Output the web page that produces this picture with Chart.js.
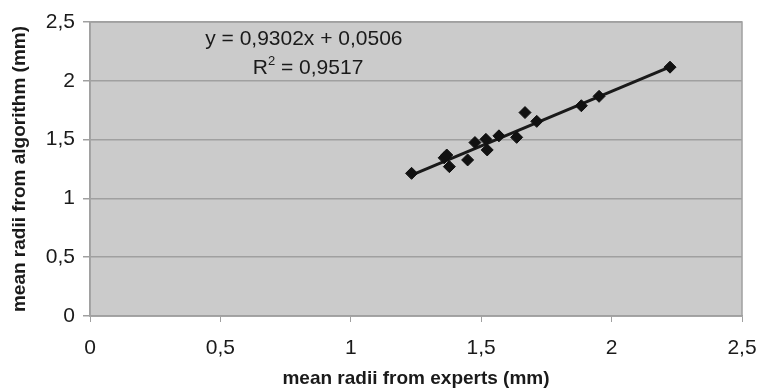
<!DOCTYPE html>
<html>
<head>
<meta charset="utf-8">
<script src="https://cdn.jsdelivr.net/npm/chart.js"></script>
<style>
  html, body { margin: 0; padding: 0; background: #fff; }
  #wrap { width: 759px; height: 390px; }
</style>
</head>
<body>
<div id="wrap"><canvas id="scatterChart" width="759" height="390"></canvas></div>
<script>
// mean radii, experts (x) vs algorithm (y), in mm
var expertsRadii = [1.233, 1.358, 1.368, 1.378, 1.448, 1.476, 1.518, 1.523, 1.568, 1.636, 1.668, 1.713, 1.884, 1.952, 2.224];
var algorithmRadii = [1.213, 1.345, 1.369, 1.270, 1.327, 1.475, 1.502, 1.412, 1.532, 1.519, 1.730, 1.655, 1.788, 1.868, 2.116];
var slope = 0.9302;
var intercept = 0.0506;
var rSquared = 0.9517;
var axisTicks = [0, 0.5, 1, 1.5, 2, 2.5];

var points = expertsRadii.map(function (x, i) { return { x: x, y: algorithmRadii[i] }; });
var xMin = Math.min.apply(null, expertsRadii);
var xMax = Math.max.apply(null, expertsRadii);
var trend = [
    { x: xMin, y: slope * xMin + intercept },
    { x: xMax, y: slope * xMax + intercept }
];

var FONT = "'Liberation Sans', Arial, sans-serif";
function fmt(v) { return String(v).replace(".", ","); }

// gray plot background + frame + regression label
var plotBackground = {
    id: "plotBackground",
    beforeDraw: function (chart) {
        var a = chart.chartArea, ctx = chart.ctx;
        ctx.save();
        ctx.fillStyle = "#cbcbcb";
        ctx.fillRect(a.left, a.top, a.right - a.left, a.bottom - a.top);
        ctx.restore();
    },
    afterDatasetsDraw: function (chart) {
        var a = chart.chartArea, ctx = chart.ctx;
        ctx.save();
        ctx.strokeStyle = "#a0a0a0";
        ctx.lineWidth = 1.5;
        ctx.strokeRect(a.left, a.top, a.right - a.left, a.bottom - a.top);

        var xs = chart.scales.x, ys = chart.scales.y;
        ctx.fillStyle = "#1a1a1a";
        ctx.textBaseline = "middle";
        ctx.textAlign = "center";
        ctx.font = "21px " + FONT;
        ctx.fillText("y = " + fmt(slope) + "x + " + fmt(intercept), xs.getPixelForValue(0.82), ys.getPixelForValue(2.355));

        var cx = xs.getPixelForValue(0.836), ry = ys.getPixelForValue(2.109);
        var rest = " = " + fmt(rSquared);
        var wR = ctx.measureText("R").width, wRest = ctx.measureText(rest).width;
        ctx.font = "13px " + FONT;
        var wSup = ctx.measureText("2").width;
        var start = cx - (wR + wSup + wRest) / 2;
        ctx.textAlign = "left";
        ctx.fillText("2", start + wR, ry - 7);
        ctx.font = "21px " + FONT;
        ctx.fillText("R", start, ry);
        ctx.fillText(rest, start + wR + wSup, ry);
        ctx.restore();
    }
};

var ctxScatter = document.getElementById("scatterChart").getContext("2d");
var scatterChart = new Chart(ctxScatter, {
    type: "scatter",
    data: {
        datasets: [{
            label: "radii",
            data: points,
            pointStyle: "rectRot",
            pointRadius: 6,
            backgroundColor: "#111",
            borderColor: "#111",
            borderWidth: 1
        }, {
            type: "line",
            label: "trend",
            data: trend,
            borderColor: "#1a1a1a",
            borderWidth: 3,
            pointRadius: 0,
            fill: false
        }]
    },
    options: {
        responsive: false,
        animation: false,
        layout: { padding: { top: 22, right: 17, left: 0, bottom: 0 } },
        plugins: {
            legend: { display: false },
            tooltip: { enabled: false }
        },
        scales: {
            x: {
                type: "linear",
                min: 0,
                max: 2.5,
                afterBuildTicks: function (s) { s.ticks = axisTicks.map(function (v) { return { value: v }; }); },
                afterFit: function (s) { s.height = 74; s.paddingLeft = 0; s.paddingRight = 0; },
                grid: { drawOnChartArea: false, color: "#a0a0a0", tickLength: 6 },
                border: { color: "#a0a0a0", width: 1.5 },
                ticks: {
                    color: "#1a1a1a",
                    padding: 14,
                    font: { family: FONT, size: 21 },
                    callback: function (v) { return fmt(v); }
                },
                title: {
                    display: true,
                    text: "mean radii from experts (mm)",
                    color: "#1a1a1a",
                    padding: { top: 0, bottom: 0 },
                    font: { family: FONT, size: 19, weight: "bold" }
                }
            },
            y: {
                type: "linear",
                min: 0,
                max: 2.5,
                afterBuildTicks: function (s) { s.ticks = axisTicks.map(function (v) { return { value: v }; }); },
                afterFit: function (s) { s.width = 90; s.paddingTop = 0; s.paddingBottom = 0; },
                grid: { color: "#a0a0a0", lineWidth: 1.5, tickLength: 7 },
                border: { color: "#a0a0a0", width: 1.5 },
                ticks: {
                    color: "#1a1a1a",
                    padding: 8,
                    font: { family: FONT, size: 21 },
                    callback: function (v) { return fmt(v); }
                },
                title: {
                    display: true,
                    text: "mean radii from algorithm (mm)",
                    color: "#1a1a1a",
                    padding: { top: 8, bottom: 0 },
                    font: { family: FONT, size: 19, weight: "bold" }
                }
            }
        }
    },
    plugins: [plotBackground]
});
</script>
</body>
</html>
